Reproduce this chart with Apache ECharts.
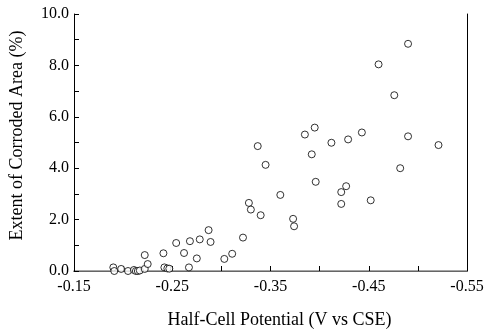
<!DOCTYPE html>
<html>
<head>
<meta charset="utf-8">
<script src="https://cdn.jsdelivr.net/npm/echarts@6/dist/echarts.min.js"></script>
<style>html,body{margin:0;padding:0;background:#fff}#c{width:488px;height:335px}</style>
</head>
<body>
<div id="c"></div>
<script>
const potential = [-0.190,-0.191,-0.198,-0.205,-0.211,-0.213,-0.215,-0.217,-0.222,-0.222,-0.225,-0.241,-0.242,-0.245,-0.247,-0.254,-0.262,-0.268,-0.267,-0.275,-0.278,-0.287,-0.289,-0.303,-0.311,-0.322,-0.328,-0.330,-0.337,-0.340,-0.345,-0.360,-0.373,-0.374,-0.385,-0.392,-0.395,-0.396,-0.412,-0.422,-0.422,-0.427,-0.429,-0.443,-0.452,-0.460,-0.476,-0.482,-0.490,-0.490,-0.521];
const area = [0.14,0.00,0.08,0.00,0.04,0.00,0.00,0.02,0.62,0.08,0.27,0.69,0.14,0.10,0.09,1.09,0.70,1.16,0.14,0.49,1.23,1.59,1.13,0.47,0.67,1.30,2.65,2.39,4.86,2.17,4.13,2.96,2.03,1.74,5.31,4.54,5.58,3.47,4.99,3.07,2.61,3.30,5.12,5.39,2.75,8.04,6.84,4.00,5.24,8.84,4.90];
const xTitle = 'Half-Cell Potential (V vs CSE)';
const yTitle = 'Extent of Corroded Area (%)';

const font = 'Liberation Serif';
const chart = echarts.init(document.getElementById('c'), null, {renderer:'canvas'});
const pts = potential.map((p,i)=>[p, area[i]]);
chart.setOption({
  animation:false,
  backgroundColor:'#fff',
  grid:{left:73,right:21,top:14,bottom:64,containLabel:false},
  xAxis:[{
    type:'value', inverse:true, min:-0.55, max:-0.15, interval:0.05,
    axisLine:{show:true,lineStyle:{color:'#000',width:1}},
    axisTick:{show:true,inside:true,length:5,lineStyle:{color:'#000'}},
    splitLine:{show:false},
    axisLabel:{fontFamily:font,fontSize:16,color:'#000',margin:8,
      formatter:v=>{const k=Math.abs(Math.round(v*100));return k%10===5?v.toFixed(2):'';}},
    name:xTitle,nameLocation:'middle',nameGap:40,
    nameTextStyle:{fontFamily:font,fontSize:18,color:'#000',padding:[0,0,0,18]}
  },{
    type:'value', inverse:true, min:-0.55, max:-0.15, position:'top',
    axisLine:{show:true,lineStyle:{color:'#888',width:1.5}},
    axisTick:{show:false},axisLabel:{show:false},splitLine:{show:false}
  }],
  yAxis:[{
    type:'value', min:0, max:10, interval:1,
    axisLine:{show:true,lineStyle:{color:'#000',width:1}},
    axisTick:{show:true,inside:true,length:5,lineStyle:{color:'#000'}},
    splitLine:{show:false},
    axisLabel:{fontFamily:font,fontSize:16,color:'#000',margin:5,
      formatter:v=>(Math.round(v)%2===0?v.toFixed(1):'')},
    name:yTitle,nameLocation:'middle',nameGap:48,nameRotate:90,
    nameTextStyle:{fontFamily:font,fontSize:18,color:'#000',padding:[0,0,0,14]}
  },{
    type:'value', min:0, max:10, position:'right',
    axisLine:{show:true,lineStyle:{color:'#000',width:1}},
    axisTick:{show:false},axisLabel:{show:false},splitLine:{show:false}
  }],
  series:[{
    type:'scatter', data:pts, symbol:'circle', symbolSize:7,
    itemStyle:{color:'#fff',borderColor:'#000',borderWidth:1}
  }]
});
</script>
</body>
</html>
